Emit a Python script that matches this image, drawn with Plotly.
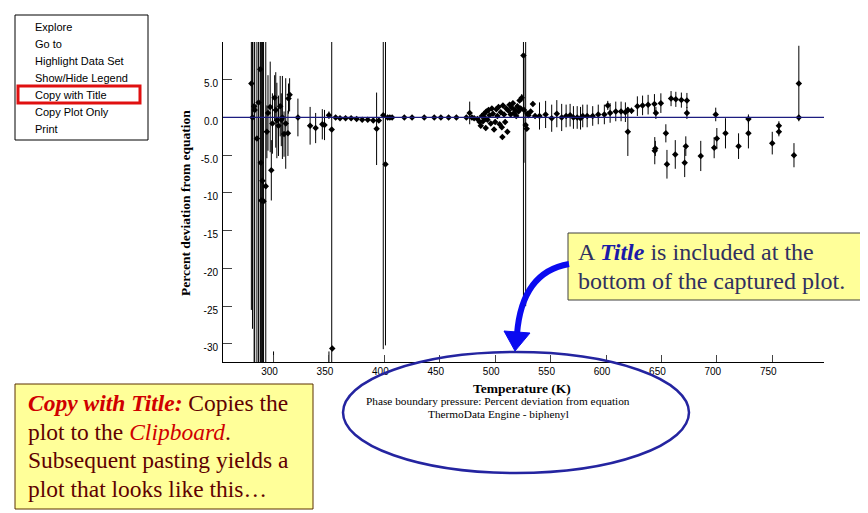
import plotly.graph_objects as go

# temperature (K), percent deviation, error bar half-width
temps = [
    280, 281, 282.5, 283, 285, 286.5, 288, 288.5, 289, 290, 291, 293,
    294, 295, 297, 298, 299, 300, 301, 302, 303, 304.5, 306, 307, 308,
    309.5, 311, 313, 313.5, 314.5, 322, 333, 338, 344, 346, 350, 350,
    352.5, 353, 356, 360, 365, 370, 375, 380, 385, 390, 393, 395, 399,
    401, 403, 405, 407, 418, 425, 436, 445, 451, 458, 465, 474, 477,
    479, 481,
    484, 486, 487, 488, 489, 490, 491, 491.5, 492, 493, 494, 495, 496,
    497, 498, 499, 500, 501, 502, 503, 504, 505, 506, 506.5, 507, 508,
    509, 510, 511, 512, 513, 514, 515, 516, 517, 518, 519, 520, 521,
    522, 523, 524, 525.5, 526, 527.5, 528.5, 529, 530, 532, 534, 536,
    540, 545.5, 551, 555.6, 560, 564, 567.6, 570.6, 574, 577, 579, 583,
    588, 593, 598.5, 601.6, 603.7, 608.8, 613.6, 617.5, 619.7, 619.7,
    623, 628.3, 633, 638, 643.7, 645, 644, 644.5, 649.5, 654, 655,
    658.7, 663, 662.5, 668, 673, 673, 672, 671, 685.5, 699, 697.6, 700,
    707.8, 719.6, 728.5, 728.5, 750, 756, 756, 769.6, 774, 774,
]
devs = [
    4.5, 0.0, 1.5, 1.0, -2.8, 2.0, 6.4, -6.0, -11.0, -8.4, -11.1, -9.1,
    -1.9, 0.6, 1.4, -7.0, -0.8, -36, 2.6, 1.0, -0.4, -1.1, 1.5, -0.3, 0.0,
    -2.2, -0.8, -2.1, 2.5, 3.0, 0.0, -1.1, -1.4, -0.9, -1.0, 0.3, -36,
    -1.6, -30.6, 0.0, -0.1, -0.1, -0.1, -0.2, -0.3, -0.3, -0.4, -1.5, -0.4, 0.3,
    -6.2, 0.0, 0.0, 0.0, 0.0, 0.0, 0.0, 0.0, 0.0, 0.0, 0.0, 0.0, 0.6,
    0.0, -0.1,
    -0.2, -0.6, -1.1, 0.2, -0.5, 0.5, -0.1, -1.4, 0.8, -0.3, 1.0, 0.3, -0.8,
    1.2, 0.5, -1.6, -0.6, 1.1, 0.2, 1.4, -0.9, 0.7, -1.3, -2.6, 1.6, 0.4,
    -0.6, 1.2, -1.9, 0.9, 1.7, 0.4, 1.3, 1.9, 0.6, 1.0, 0.2, 1.5, 0.8,
    2.25, 1.2, 2.6, 8.2, 1.0, -1.0, -1.5, 0.5, 0.3, 0.8, 1.8, 0.2,
    0.2, 0.4, -0.1, 0.5, 0.0, 0.2, 0.3, 0.0, 0.0, -0.1, 0.2, 0.2,
    0.2, 0.4, 0.4, 1.6, 0.6, 0.8, 0.8, 0.7, 1.0, -1.9,
    0.9, 1.5, 1.6, 1.7, 1.8, 0.6, -4.4, -4.1, 1.9, -2.1, -6.2,
    2.5, 2.4, -4.9, 2.3, 2.25, 0.6, -3.8, -6.0, -5.1, 0.4, -4.0, -2.8,
    -2.1, -3.8, -0.2, -2.1, -3.4, -1.1, -1.9, -5.0, 4.5, 0.0,
]
errs = [
    30, 28, 40, 40, 40, 40, 40, 40, 40, 40, 40, 40,
    3.5, 5, 6, 4, 4, 5, 3, 5, 5, 4, 4, 3.5, 5.5,
    3, 6, 3, 2, 2.2, 2.5, 2.5, 2, 2, 2, 0.5, 5,
    45, 0.3, 0.2, 0.2, 0.2, 0.2, 0.2, 0.2, 0.2, 0.2, 4.8, 0.2, 31,
    24, 0.2, 0.2, 0.2, 0.2, 0.2, 0.2, 0.2, 0.2, 0.2, 0.2, 0.2, 1.5,
    0.2, 0.2,
    0.3, 0.3, 0.3, 0.3, 0.3, 0.3, 0.3, 0.3, 0.3, 0.3, 0.3, 0.3, 0.3,
    0.3, 0.3, 0.3, 0.3, 0.3, 0.3, 0.3, 0.3, 0.3, 0.3, 0.3, 0.3, 0.3,
    0.3, 0.3, 0.3, 0.3, 0.3, 0.3, 0.3, 0.3, 0.3, 0.3, 0.3, 0.3, 0.3,
    0.3, 0.3, 0.5, 33, 7, 24, 0.3, 0.3, 0.3, 0.3, 0.3, 0.3,
    1.8, 1.8, 1.8, 1.8, 1.8, 1.5, 1.5, 1.5, 1.5, 1.5, 1.5, 1.5,
    1.3, 1.3, 1.3, 0.6, 1.3, 1.3, 1.3, 1.3, 0.4, 3.2,
    0.4, 1.3, 1.3, 1.3, 1.3, 0.8, 1.8, 1.0, 1.3, 1.2, 1.9,
    1.0, 1.0, 1.9, 1.0, 1.0, 0.8, 1.3, 1.9, 2.0, 0.9, 1.4, 1.4,
    2.0, 1.7, 0.6, 2.0, 1.5, 0.6, 0.6, 1.6, 5.0, 0.3,
]

x_ticks = [300, 350, 400, 450, 500, 550, 600, 650, 700, 750]
y_ticks = [10, 5, 0, -5, -10, -15, -20, -25, -30]
y_ticktext = ["", "5.0", "0.0", "-5.0", "-10", "-15", "-20", "-25", "-30"]

menu_items = ["Explore", "Go to", "Highlight Data Set", "Show/Hide Legend",
              "Copy with Title", "Copy Plot Only", "Print"]

left_note = [
    "<span style='color:#d00000'><b><i>Copy with Title:</i></b></span> Copies the",
    "plot to the <span style='color:#d00000'><i>Clipboard</i></span>.",
    "Subsequent pasting yields a",
    "plot that looks like this\u2026",
]
right_note = [
    "A <span style='color:#1a1aa8'><b><i>Title</i></b></span> is included at the",
    "bottom of the captured plot.",
]

# the page body adds an 8px margin, so the figure is 8px smaller and
# helper coordinates below are in the 868x513 screenshot frame
W, H = 860, 505
L, R, T, B = 215, 44, 34, 151
PW, PH = W - L - R, H - T - B


def px(x):
    return (x - 223) / PW


def py(y):
    return (362 - y) / PH


def label(x, y, text, size, color="black", family="Liberation Serif", xanchor="left", angle=0):
    return dict(xref="paper", yref="paper", x=px(x), y=py(y), text=text,
                showarrow=False, xanchor=xanchor, yanchor="middle", textangle=angle,
                font=dict(family=family, size=size, color=color))


fig = go.Figure()
fig.add_trace(go.Scatter(
    x=temps, y=devs, mode="markers",
    marker=dict(symbol="diamond", size=5, color="black"),
    error_y=dict(type="data", array=errs, color="black", thickness=1, width=0),
    hoverinfo="x+y",
))

shapes = []
annotations = []

# zero reference line, drawn over the points
shapes.append(dict(type="line", xref="paper", yref="y", x0=0, x1=1, y0=0, y1=0,
                   line=dict(color="#1c1c80", width=1.2), layer="above"))

# context menu
shapes.append(dict(type="rect", xref="paper", yref="paper",
                   x0=px(15), x1=px(148), y0=py(15), y1=py(140),
                   line=dict(color="black", width=1), fillcolor="white"))
for i, item in enumerate(menu_items):
    annotations.append(label(33, 27 + 17 * i, item, 11, family="Liberation Sans"))
shapes.append(dict(type="rect", xref="paper", yref="paper",
                   x0=px(18), x1=px(140), y0=py(86), y1=py(103),
                   line=dict(color="#e01010", width=3)))

# plot title lines under the axis
annotations.append(label(522, 388, "<b>Temperature (K)</b>", 13.5, xanchor="center"))
annotations.append(label(498, 401, "Phase boundary pressure: Percent deviation from equation",
                         11.3, xanchor="center"))
annotations.append(label(498, 414, "ThermoData Engine - biphenyl", 11.3, xanchor="center"))
annotations.append(label(185, 203, "<b>Percent deviation from equation</b>", 13.5,
                         xanchor="center", angle=-90))

# ellipse round the title
shapes.append(dict(type="circle", xref="paper", yref="paper",
                   x0=px(343), x1=px(689), y0=py(352), y1=py(473),
                   line=dict(color="#2424a0", width=2.5)))

# right callout
shapes.append(dict(type="rect", xref="paper", yref="paper",
                   x0=px(568), x1=px(863), y0=py(233), y1=py(300),
                   line=dict(color="#404040", width=1), fillcolor="#ffff99"))
for i, line in enumerate(right_note):
    annotations.append(label(576, 252 + 29 * i, line, 24, color="#303060"))

# curved arrow
shapes.append(dict(type="path", xref="paper", yref="paper",
                   path=f"M {px(569)},{py(264)} Q {px(522)},{py(272)} {px(517)},{py(334)}",
                   line=dict(color="#0a0af0", width=6)))
shapes.append(dict(type="path", xref="paper", yref="paper",
                   path=f"M {px(504)},{py(331)} L {px(530)},{py(333)} L {px(515)},{py(351)} Z",
                   line=dict(color="#0a0af0", width=1), fillcolor="#0a0af0"))

# left callout
shapes.append(dict(type="rect", xref="paper", yref="paper",
                   x0=px(15), x1=px(313), y0=py(384), y1=py(509),
                   line=dict(color="#5a3000", width=1), fillcolor="#ffff99"))
for i, line in enumerate(left_note):
    annotations.append(label(26, 403 + 28.5 * i, line, 23.5, color="#600000"))

fig.update_layout(
    width=W, height=H, autosize=False,
    margin=dict(l=L, r=R, t=T, b=B),
    showlegend=False,
    plot_bgcolor="white", paper_bgcolor="white",
    shapes=shapes, annotations=annotations,
    xaxis=dict(range=[254.4, 796.7], tickvals=x_ticks, ticks="inside", ticklen=7,
               showline=True, linecolor="black", linewidth=1, showgrid=False,
               zeroline=False, ticklabelshift=-4,
               tickfont=dict(family="Liberation Sans", size=10, color="black")),
    yaxis=dict(range=[-32.4, 10], tickvals=y_ticks, ticktext=y_ticktext,
               ticks="inside", ticklen=9, showline=True, linecolor="black",
               linewidth=1, showgrid=False, zeroline=False,
               ticklabelshift=4, ticklabelstandoff=2,
               tickfont=dict(family="Liberation Sans", size=10, color="black")),
)

fig.write_html("out.html")
